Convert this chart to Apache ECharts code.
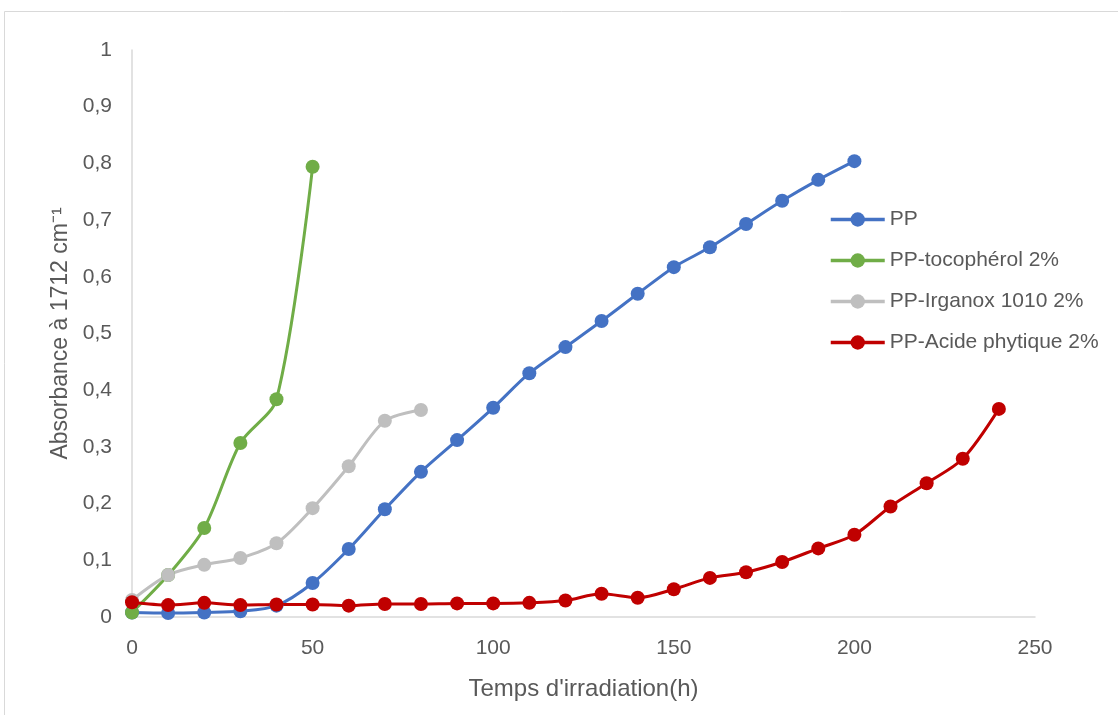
<!DOCTYPE html>
<html><head><meta charset="utf-8">
<script src="https://cdn.jsdelivr.net/npm/echarts@6/dist/echarts.min.js"></script>
<style>html,body{margin:0;padding:0;background:#fff}#c{width:1118px;height:715px}</style>
</head><body><div id="c"></div>
<script>
const hoursPP = [0,10,20,30,40,50,60,70,80,90,100,110,120,130,140,150,160,170,180,190,200];
const valuesPP = [0.008,0.007,0.008,0.01,0.02,0.06,0.12,0.19,0.256,0.312,0.369,0.43,0.476,0.522,0.57,0.617,0.652,0.693,0.734,0.771,0.804];
const hoursToco = [0,10,20,30,40,50];
const valuesToco = [0.008,0.074,0.157,0.307,0.384,0.794];
const hoursIrga = [0,10,20,30,40,50,60,70,80];
const valuesIrga = [0.03,0.074,0.092,0.104,0.13,0.192,0.266,0.346,0.365];
const hoursAcide = [0,10,20,30,40,50,60,70,80,90,100,110,120,130,140,150,160,170,180,190,200,210,220,230,240];
const valuesAcide = [0.026,0.021,0.025,0.021,0.022,0.022,0.02,0.023,0.023,0.024,0.024,0.025,0.029,0.041,0.034,0.049,0.069,0.079,0.097,0.121,0.145,0.195,0.236,0.279,0.367];
const seriesNames = ['PP','PP-tocophérol 2%','PP-Irganox 1010 2%','PP-Acide phytique 2%'];
const colors = ['#4472C4','#70AD47','#BFBFBF','#C00000'];

const zip = (xs, ys) => xs.map((x,i)=>[x, ys[i]]);
const dataSets = [zip(hoursPP,valuesPP), zip(hoursToco,valuesToco), zip(hoursIrga,valuesIrga), zip(hoursAcide,valuesAcide)];
const font = 'Liberation Sans, Arial, sans-serif';
const txt = '#595959';

const chart = echarts.init(document.getElementById('c'), null, {renderer:'canvas'});
chart.setOption({
  animation:false,
  backgroundColor:'#fff',
  color: colors,
  graphic:[{type:'rect', shape:{x:4.5,y:11.5,width:1200,height:800}, style:{fill:'none',stroke:'#d9d9d9',lineWidth:1}, silent:true, z:-10}],
  grid:{left:132, right:83, top:50, bottom:98},
  legend:{
    orient:'vertical', left:824, top:204, itemGap:20, itemWidth:54, itemHeight:18,
    textStyle:{color:txt, fontSize:21, fontFamily:font},
    lineStyle:{width:3.5},
    data: seriesNames
  },
  xAxis:{
    type:'value', min:0, max:250, interval:50,
    name:"Temps d'irradiation(h)", nameLocation:'middle', nameGap:60,
    nameTextStyle:{color:txt, fontSize:24, fontFamily:font},
    axisLine:{lineStyle:{color:'#d9d9d9', width:1.5}}, axisTick:{show:false},
    axisLabel:{color:txt, fontSize:21, fontFamily:font, margin:21},
    splitLine:{show:false}
  },
  yAxis:{
    type:'value', min:0, max:1, interval:0.1,
    name:'Absorbance à 1712 cm⁻¹', nameLocation:'middle', nameGap:60,
    nameTextStyle:{color:txt, fontSize:23, fontFamily:font},
    axisLine:{show:true, lineStyle:{color:'#d9d9d9', width:1.5}}, axisTick:{show:false},
    axisLabel:{color:txt, fontSize:21, fontFamily:font, margin:20,
      formatter: v => (Math.round(v*10)/10).toString().replace('.',',')},
    splitLine:{show:false}
  },
  series: seriesNames.map((n,i)=>({
    name:n, type:'line', data:dataSets[i], smooth:0.3,
    symbol:'circle', symbolSize:14, showSymbol:true,
    lineStyle:{width:3, color:colors[i]}, itemStyle:{color:colors[i]}
  }))
});
</script></body></html>
